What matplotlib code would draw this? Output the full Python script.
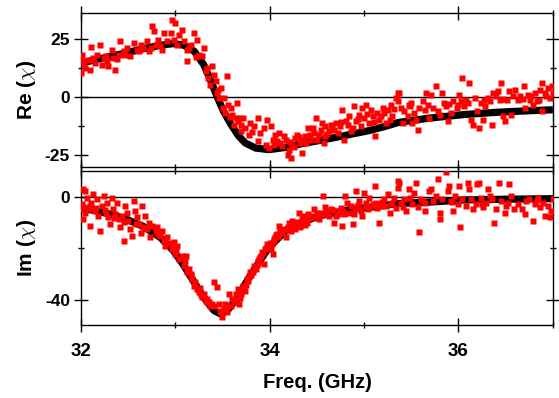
import matplotlib
matplotlib.use("Agg")
from matplotlib import pyplot as plt
from matplotlib.ticker import MultipleLocator

plt.rcParams["font.family"] = ["Liberation Sans", "DejaVu Sans"]
plt.rcParams["font.weight"] = "bold"
plt.rcParams["mathtext.fontset"] = "cm"
plt.rcParams["axes.unicode_minus"] = False

# fitted curves
fit_freq_re = [31.99, 32.31, 32.48, 32.66, 32.84, 32.98, 33.09, 33.2, 33.3, 33.37, 33.44,
               33.51, 33.59, 33.67, 33.74, 33.85, 33.99, 34.17, 34.34, 34.52, 34.7, 34.88,
               35.05, 35.23, 35.36, 35.69, 36.05, 36.4, 36.76, 37.0]
fit_re = [14.5, 17.5, 19.0, 20.8, 22.3, 23.0, 22.3, 19.7, 13.9, 7.5, 0.3,
          -6.2, -11.9, -16.8, -19.8, -22.0, -22.7, -21.7, -20.1, -18.8, -17.4, -15.9,
          -14.5, -12.6, -11.0, -9.1, -7.6, -6.6, -5.9, -5.5]

fit_freq_im = [31.99, 32.13, 32.31, 32.48, 32.66, 32.84, 32.98, 33.09, 33.2, 33.3, 33.41,
               33.48, 33.55, 33.64, 33.74, 33.85, 33.99, 34.17, 34.34, 34.52, 34.7, 34.88,
               35.05, 35.36, 35.7, 36.05, 36.5, 37.0]
fit_im = [-4.5, -5.2, -6.7, -8.7, -11.5, -15.8, -21.0, -26.8, -33.3, -39.1, -44.3,
          -45.6, -44.3, -40.0, -33.9, -27.4, -19.7, -13.2, -10.0, -7.4, -6.1, -4.8,
          -4.1, -2.6, -2.0, -1.2, -0.9, -0.7]

# measured points, real part
re_freq = [31.99, 32.01, 32.02, 32.04, 32.0, 32.08, 32.11, 32.1, 32.15, 32.17, 32.2, 32.22,
           32.24, 32.27, 32.29, 32.33, 32.34, 32.36, 32.4, 32.41, 32.45, 32.49, 32.52, 32.56,
           32.59, 32.63, 32.66, 32.7, 32.72, 32.75, 32.77, 32.79, 32.82, 32.86, 32.88, 32.91,
           32.95, 32.96, 33.0, 33.02, 33.04, 33.07, 33.09, 33.12, 33.12, 33.16, 33.2, 33.23,
           33.25, 33.28, 33.3, 33.34, 33.35, 33.39, 33.41, 33.43, 33.44, 33.48, 33.51, 33.55,
           33.56, 33.59, 33.6, 33.64, 33.66, 33.37, 33.46, 33.5, 33.53, 33.62,
           33.65, 33.67, 33.69, 33.72, 33.74, 33.78, 33.79, 33.83, 33.87, 33.88, 33.9, 33.94,
           33.97, 33.99, 34.01, 34.03, 34.06, 34.1, 34.11, 34.15, 34.17, 34.19, 34.2, 34.22,
           34.24, 34.27, 34.29, 34.32, 34.34, 34.36, 34.38, 34.41, 34.43, 34.47, 34.49, 34.5,
           34.54, 34.55, 34.57, 34.59, 34.63, 34.65, 34.68, 34.7, 34.74, 34.77, 34.79, 34.81,
           34.84, 34.88, 34.89, 34.91, 34.95, 34.98, 35.0, 35.02, 35.05, 35.07, 35.09, 35.12,
           35.14, 35.18, 35.2, 35.23, 35.25, 35.28, 35.3, 35.34, 35.36,
           35.36, 35.37, 35.39, 35.41, 35.42, 35.46, 35.48, 35.49, 35.51, 35.53, 35.55, 35.57,
           35.58, 35.62, 35.64, 35.66, 35.69, 35.71, 35.73, 35.76, 35.78, 35.8, 35.83, 35.85,
           35.87, 35.89, 35.92, 35.94, 35.98, 35.99, 36.01, 36.03, 36.04, 36.06, 36.08, 36.11,
           36.13, 36.15, 36.17, 36.2, 36.22, 36.24, 36.26, 36.28, 36.31, 36.33, 36.35, 36.37,
           36.4, 36.42, 36.44, 36.45, 36.47, 36.49, 36.51, 36.54, 36.56, 36.58, 36.6, 36.63,
           36.65, 36.69, 36.71, 36.74, 36.76, 36.77, 36.79, 36.81, 36.83, 36.86, 36.88, 36.89,
           36.92, 36.93, 36.95, 36.97, 36.99, 37.0,
           # extra points close to the fit
           34.05, 34.08, 34.13, 34.21, 34.26, 34.31, 34.37, 34.44, 34.46, 34.52, 34.58, 34.61,
           34.66, 34.72, 34.75, 34.83, 34.86, 34.93, 34.97, 35.03, 35.1, 35.16, 35.21, 35.27,
           35.32, 35.5, 35.68, 35.9, 36.1, 36.27, 36.47, 36.68, 36.85,
           32.03, 32.13, 32.26, 32.38, 32.47, 32.61, 32.74, 32.84, 32.98, 33.14, 33.22, 33.32,
           33.45, 33.58, 33.7, 33.81, 33.96]
re_data = [16.8, 18.2, 14.7, 12.5, 10.3, 16.1, 21.4, 11.8, 14.7, 18.2, 22.6, 13.9,
           16.8, 15.4, 13.2, 20.4, 16.8, 11.8, 18.2, 24.0, 19.7, 21.1, 17.5, 23.3,
           20.4, 22.6, 21.1, 24.0, 19.7, 30.5, 28.3, 22.6, 24.7, 20.4, 27.6, 24.0,
           27.6, 33.3, 31.9, 22.6, 26.9, 29.0, 24.0, 20.4, 15.4, 22.6, 27.6, 24.7,
           18.2, 17.5, 21.1, 12.5, 8.2, 13.2, 9.6, 6.8, 1.7, 3.9, -0.4, 8.9,
           -3.3, -4.7, -7.6, -9.1, -10.5, 5.3, -0.4, -4.7, -6.9, -11.9,
           -2.6, -9.1, -11.9, -9.1, -13.4, -16.2, -11.2, -12.6, -9.1, -19.1, -15.5, -13.4,
           -9.8, -22.0, -12.6, -18.4, -16.2, -15.5, -19.8, -17.0, -18.4, -24.9, -22.7, -26.3,
           -20.5, -17.7, -16.2, -19.8, -24.1, -18.4, -19.8, -13.4, -16.2, -15.5, -9.1, -18.4,
           -14.1, -11.2, -19.8, -17.0, -14.8, -11.9, -14.1, -11.2, -12.6, -5.5, -18.4, -10.5,
           -8.3, -13.4, -4.0, -10.5, -7.6, -4.7, -9.1, -3.3, -11.2, -5.5, -8.3, -17.0,
           -6.9, -8.3, -4.7, -11.2, -5.5, -3.3, -8.3, -0.4, 1.7,
           -1.9, 1.7, -4.7, -11.2, -6.2, -8.3, -3.3, -4.0, -11.2, -6.9, -9.8, -14.1,
           -4.7, -1.9, -5.5, 1.7, -9.1, 1.0, -4.7, 4.6, -6.2, -7.6, 1.7, -2.6,
           -4.0, -10.5, -6.9, -1.9, -4.7, -3.3, 1.0, -1.9, 8.2, -4.0, -1.1, 6.0,
           -9.8, -11.9, -0.4, -6.2, -13.4, -2.6, -9.8, -4.0, -0.4, -1.9, -11.9, 1.7,
           0.3, 2.4, -1.1, 6.0, -8.3, -10.5, -1.1, 2.4, -7.6, 0.3, 3.2, -1.1,
           0.3, 4.6, -4.7, 1.0, -1.1, 0.3, -3.3, 1.7, -1.9, 3.2, -6.2, 6.0,
           1.7, 0.3, 3.9, -0.4, 4.6, 1.7,
           -20.5, -18.9, -21.2, -19.4, -21.5, -17.2, -16.8, -18.6, -13.2, -16.5, -12.7, -15.9,
           -13.5, -15.3, -10.8, -12.1, -14.6, -9.5, -12.3, -7.2, -10.9, -9.8, -6.8, -10.1,
           -5.2, -2.6, -3.6, -2.9, -2.5, -1.5, -0.8, -0.8, -1.3,
           15.5, 16.9, 17.8, 16.4, 18.3, 19.6, 21.3, 21.9, 24.6, 21.2, 17.1, 11.2,
           3.1, -8.6, -14.8, -14.9, -20.7]

# measured points, imaginary part
im_freq = [32.02, 32.04, 31.99, 32.01, 32.02, 32.04, 32.06, 32.08, 32.1, 32.11, 32.13, 32.15,
           32.17, 32.18, 32.2, 32.22, 32.24, 32.26, 32.27, 32.29, 32.31, 32.33, 32.34, 32.36,
           32.38, 32.4, 32.41, 32.43, 32.45, 32.47, 32.49, 32.5, 32.52, 32.54, 32.56, 32.57,
           32.59, 32.61, 32.63, 32.65, 32.66, 32.68, 32.7, 32.72, 32.73, 32.75, 32.79, 32.8,
           32.82, 32.84, 32.86, 32.88, 32.89, 32.91, 32.95, 32.96, 32.98, 33.0, 33.02, 33.04,
           33.07, 33.09, 33.11, 33.12, 33.14, 33.16, 33.18, 33.2, 33.21, 33.23, 33.25, 33.27,
           33.28, 33.3, 33.32, 33.34, 33.35, 33.37, 33.39, 33.41, 33.41, 33.44, 33.46, 33.48,
           33.49, 33.51, 33.53, 33.55, 33.57, 33.59, 33.6, 33.62, 33.64, 33.66,
           33.65, 33.67, 33.69, 33.71, 33.72, 33.74, 33.76, 33.78, 33.79, 33.83, 33.85, 33.87,
           33.88, 33.9, 33.92, 33.94, 33.95, 33.97, 33.99, 34.01, 34.03, 34.04, 34.06, 34.08,
           34.1, 34.11, 34.13, 34.17, 34.18, 34.2, 34.22, 34.24, 34.25, 34.27, 34.31, 34.32,
           34.34, 34.36, 34.38, 34.39, 34.41, 34.47, 34.49, 34.52, 34.54, 34.56, 34.59, 34.61,
           34.65, 34.68, 34.7, 34.73, 34.77, 34.79, 34.8, 34.82, 34.84, 34.88, 34.89, 34.91,
           34.93, 34.95, 34.98, 35.0, 35.02, 35.05, 35.07, 35.11, 35.13, 35.16, 35.18, 35.21,
           35.25, 35.27, 35.28, 35.32, 35.36,
           35.36, 35.37, 35.39, 35.41, 35.42, 35.44, 35.48, 35.49, 35.51, 35.53, 35.55, 35.57,
           35.58, 35.6, 35.64, 35.65, 35.69, 35.71, 35.73, 35.76, 35.78, 35.8, 35.8, 35.83,
           35.87, 35.89, 35.9, 35.92, 35.94, 35.96, 35.99, 36.01, 36.02, 36.04, 36.08, 36.1,
           36.11, 36.13, 36.15, 36.19, 36.2, 36.22, 36.24, 36.26, 36.29, 36.31, 36.33, 36.35,
           36.38, 36.4, 36.43, 36.45, 36.49, 36.5, 36.54, 36.56, 36.59, 36.63, 36.67, 36.7,
           36.72, 36.75, 36.79, 36.81, 36.84, 36.86, 36.9, 36.92, 36.95, 36.97, 36.98, 37.0,
           # extra points close to the fit
           33.68, 33.7, 33.73, 33.75, 33.77, 33.8, 33.82, 33.84, 33.86, 33.89, 33.91, 33.93,
           33.96, 33.98, 34.0, 34.02, 34.05, 34.07, 34.09, 34.12, 34.14, 34.16, 34.19, 34.21,
           34.23, 34.26, 34.29, 34.33, 34.35, 34.37, 34.4, 34.43, 34.45, 34.5, 34.53, 34.57,
           34.6, 34.63, 34.67, 34.72, 34.75, 34.78, 34.86, 34.9, 34.94, 34.97, 35.01, 35.04,
           35.09, 35.14, 35.19, 35.23, 35.3, 35.34, 35.62, 35.93, 36.25, 36.52, 36.83,
           32.03, 32.09, 32.16, 32.25, 32.35, 32.46, 32.58, 32.69, 32.83, 32.93, 33.01, 33.1,
           33.17, 33.26, 33.36, 33.47, 33.56]
im_data = [3.0, 2.3, -4.8, -2.8, -8.7, -6.1, -0.3, -4.8, -11.3, -2.2, 1.0, -5.4,
           -0.9, -7.4, -13.2, -3.5, 0.4, -6.1, -2.2, -8.0, -10.6, -0.3, -4.8, -6.7,
           -2.2, -8.7, -11.9, -7.4, -17.1, -3.5, -6.1, -9.3, -12.6, -15.1, -1.6, -5.4,
           -8.0, -10.6, -13.9, -3.5, -11.9, -7.4, -12.6, -10.0, -15.8, -11.3, -13.2, -11.9,
           -14.5, -15.1, -13.2, -17.1, -19.0, -15.8, -18.4, -20.3, -17.7, -22.3, -19.0, -24.2,
           -22.9, -26.8, -22.9, -29.4, -28.1, -30.7, -32.0, -34.6, -33.3, -35.9, -37.2, -38.4,
           -39.1, -37.8, -40.4, -39.7, -41.0, -42.3, -41.7, -33.3, -42.3, -35.2, -41.7, -44.9,
           -46.9, -43.6, -41.7, -44.9, -37.8, -42.3, -39.7, -41.0, -37.8, -35.9,
           -39.7, -41.7, -37.2, -35.9, -34.6, -36.5, -32.0, -30.7, -29.4, -26.8, -28.1, -25.5,
           -24.9, -23.6, -21.6, -26.1, -20.3, -18.4, -19.0, -20.3, -22.3, -17.1, -15.8, -14.5,
           -11.3, -13.2, -13.9, -15.8, -12.6, -10.0, -13.2, -9.3, -11.3, -12.6, -6.1, -11.9,
           -8.7, -7.4, -9.3, -10.0, -6.7, -4.8, -7.4, -8.7, -6.1, 0.4, -4.1, -6.7,
           -4.8, -10.0, -7.4, -5.4, -11.3, -6.7, 0.4, -2.2, -6.1, -10.6, -6.7, 2.3,
           -4.1, -1.6, -7.4, 1.7, -2.2, -0.3, -4.1, 4.3, -2.2, -10.0, -3.5, -0.9,
           1.0, -6.1, -2.8, -0.3, 6.2,
           3.6, 5.6, -2.2, -4.1, -0.9, -5.4, 3.0, -0.3, -2.8, 1.7, 5.6, -4.1,
           -13.6, -0.9, -2.2, -5.4, 2.3, 3.0, -1.6, 0.4, 6.9, -6.1, -8.7, -0.9,
           9.7, 2.3, 4.3, -1.6, -5.4, 0.4, -2.8, 4.3, -11.9, -0.9, -3.5, 5.6,
           3.0, -0.9, -4.8, -2.8, 4.9, 5.6, -0.3, -4.1, -2.2, 3.0, 0.4, -0.9,
           -10.0, -4.8, 5.6, -1.6, -6.1, -3.5, 4.9, 0.4, -4.8, -2.8, -4.8, -6.7,
           -1.6, -0.9, -9.3, -2.8, -0.3, -4.1, -2.2, -7.4, -3.5, -8.0, -5.4, -0.9,
           -39.2, -37.9, -35.1, -34.3, -32.6, -30.4, -29.2, -27.5, -26.4, -24.1, -23.0, -21.9,
           -19.8, -18.7, -17.9, -18.2, -16.5, -14.9, -15.6, -13.9, -12.5, -12.8, -11.6, -12.1,
           -10.7, -10.2, -9.6, -9.9, -8.2, -10.8, -8.7, -7.6, -8.4, -6.3, -7.1, -6.5,
           -5.6, -7.3, -5.0, -6.6, -4.4, -5.6, -3.7, -4.9, -3.1, -5.3, -3.4, -4.6,
           -2.9, -4.2, -1.9, -3.7, -2.4, -4.4, -1.6, -1.8, -2.6, -2.5, -1.1,
           -3.9, -3.4, -4.3, -5.1, -8.1, -9.6, -10.4, -12.0, -14.2, -17.8, -20.9, -25.1,
           -30.2, -35.6, -40.9, -44.3, -42.6]

fig = plt.figure(figsize=(5.59, 3.98), dpi=100)
ax_re = fig.add_axes([0.145, 0.5796, 0.844, 0.3884])
ax_im = fig.add_axes([0.145, 0.1827, 0.844, 0.3884])

panels = [
    (ax_re, fit_freq_re, fit_re, re_freq, re_data, (-30.3, 36.3), 25, 12.5, r"Re ($\chi$)"),
    (ax_im, fit_freq_im, fit_im, im_freq, im_data, (-50, 10.2), 40, 20, r"Im ($\chi$)"),
]
for ax, ff, fv, df, dv, ylim, major, minor, label in panels:
    ax.axhline(0, color="black", lw=1.0, zorder=1)
    ax.plot(ff, fv, color="black", lw=5.2, solid_capstyle="butt", zorder=2)
    ax.plot(df, dv, "s", color="#ff0000", ms=3.8, mec="none", zorder=3)
    ax.set_xlim(32, 37)
    ax.set_ylim(*ylim)
    ax.xaxis.set_major_locator(MultipleLocator(2))
    ax.xaxis.set_minor_locator(MultipleLocator(1))
    ax.yaxis.set_major_locator(MultipleLocator(major))
    ax.yaxis.set_minor_locator(MultipleLocator(minor))
    ax.tick_params(which="both", direction="inout", top=True, right=True, width=1.0)
    ax.tick_params(axis="y", labelsize=12.5, pad=3)
    ax.tick_params(axis="x", labelsize=13.5, pad=8)
    ax.tick_params(which="major", length=10)
    ax.tick_params(which="minor", length=5)
    for sp in ax.spines.values():
        sp.set_linewidth(1.0)
    ax.set_ylabel(label, fontsize=15, fontweight="bold")
    ax.yaxis.set_label_coords(-0.092, 0.5)

ax_re.tick_params(labelbottom=False)
ax_im.set_xlabel("Freq. (GHz)", fontsize=14.5, fontweight="bold", labelpad=9)

fig.savefig("out.png", dpi=100)
